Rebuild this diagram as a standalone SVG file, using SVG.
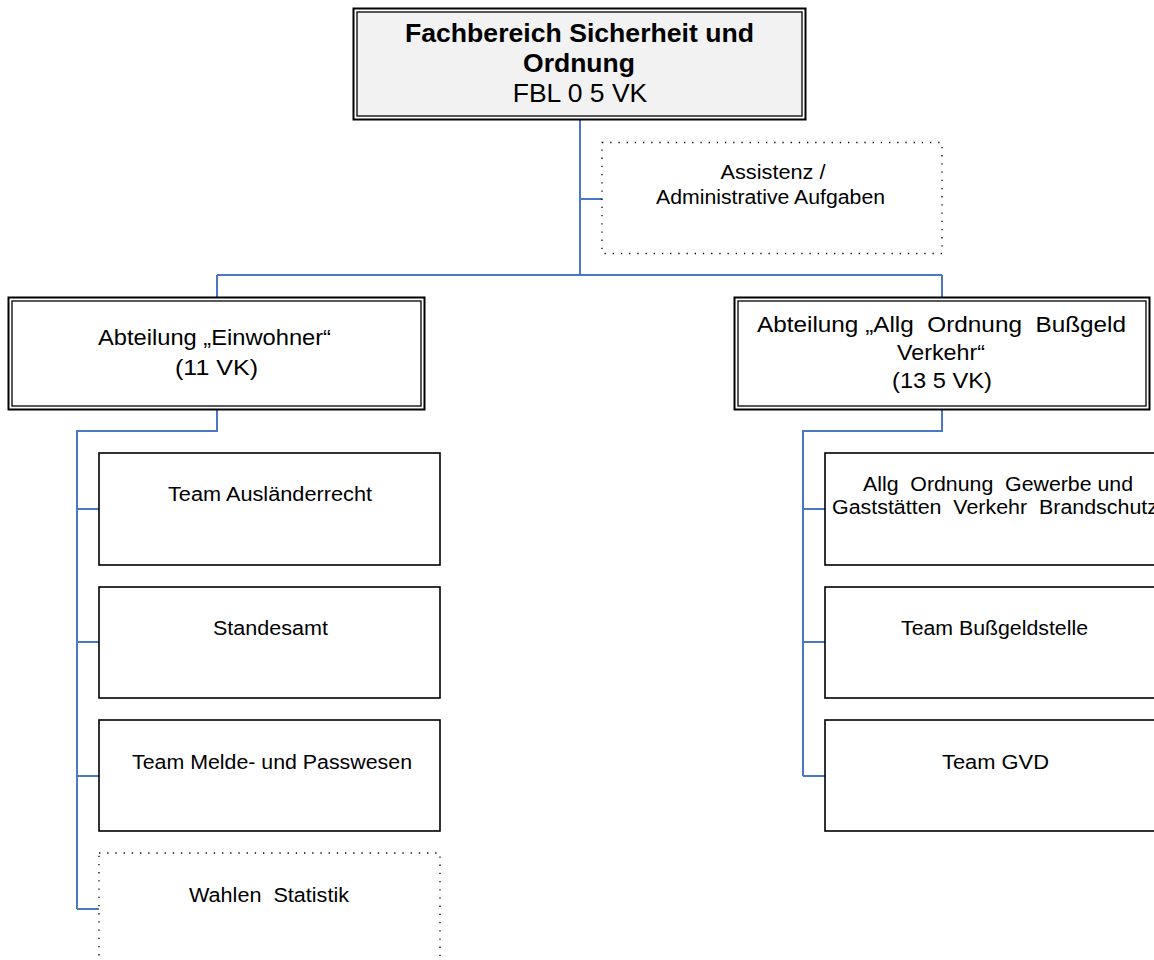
<svg xmlns="http://www.w3.org/2000/svg" width="1154" height="960" viewBox="0 0 1154 960">
<style>
  .bg { fill: #ffffff; }
  .outer { fill: #ffffff; stroke: #000000; stroke-width: 2; }
  .inner { fill: #ffffff; stroke: #000000; stroke-width: 1.3; }
  .innergray { fill: #f2f2f2; stroke: #000000; stroke-width: 1.3; }
  .box { fill: #ffffff; stroke: #000000; stroke-width: 1.6; }
  .dotted { fill: #ffffff; stroke: #000000; stroke-width: 1.3; stroke-dasharray: 1.3 6.9; }
  .conn { fill: none; stroke: #4a78c4; stroke-width: 2; }
  text { font-family: "Liberation Sans", Arial, sans-serif; fill: #000000; text-anchor: middle; }
  .title { font-size: 26.5px; font-weight: bold; }
  .sub { font-size: 26.5px; }
  .dept { font-size: 21.5px; }
  .team { font-size: 19.5px; }
</style>
<rect class="bg" x="0" y="0" width="1154" height="960"/>

<g id="connectors">
  <path class="conn" d="M580,120 V275 M580,199 H602 M217,275 H942 M217,275 V297 M942,275 V297"/>
  <path class="conn" d="M217,410 V431 H77 V909 M77,509 H99 M77,642 H99 M77,776 H99 M77,909 H99"/>
  <path class="conn" d="M942,410 V431 H803 V776 M803,509 H825 M803,642 H825 M803,776 H825"/>
</g>

<g id="node-fachbereich">
  <rect class="outer" x="353.5" y="8.5" width="452" height="111"/>
  <rect class="innergray" x="357" y="12" width="445" height="104"/>
  <text class="title" x="579.5" y="42" textLength="349" lengthAdjust="spacingAndGlyphs">Fachbereich Sicherheit und</text>
  <text class="title" x="579" y="72">Ordnung</text>
  <text class="sub" x="580" y="102" xml:space="preserve">FBL 0 5 VK</text>
</g>

<g id="node-assistenz">
  <rect class="dotted" x="602" y="142.5" width="340" height="111"/>
  <text class="team" x="773" y="179" textLength="105" lengthAdjust="spacingAndGlyphs">Assistenz /</text>
  <text class="team" x="770.5" y="204" textLength="229" lengthAdjust="spacingAndGlyphs">Administrative Aufgaben</text>
</g>

<g id="node-einwohner">
  <rect class="outer" x="8.5" y="297.5" width="416" height="112"/>
  <rect class="inner" x="12" y="301" width="409" height="105"/>
  <text class="dept" x="214.5" y="345" textLength="233" lengthAdjust="spacingAndGlyphs">Abteilung „Einwohner“</text>
  <text class="dept" x="216.5" y="375" textLength="83" lengthAdjust="spacingAndGlyphs">(11 VK)</text>
</g>

<g id="node-allg-ordnung">
  <rect class="outer" x="734.5" y="297.5" width="415" height="112"/>
  <rect class="inner" x="738" y="301" width="408" height="105"/>
  <text class="dept" x="941.5" y="332" textLength="369" lengthAdjust="spacingAndGlyphs" xml:space="preserve">Abteilung „Allg  Ordnung  Bußgeld</text>
  <text class="dept" x="941" y="360" textLength="88" lengthAdjust="spacingAndGlyphs">Verkehr“</text>
  <text class="dept" x="942" y="388" textLength="100" lengthAdjust="spacingAndGlyphs" xml:space="preserve">(13 5 VK)</text>
</g>

<g id="node-auslaenderrecht">
  <rect class="box" x="99" y="453" width="341" height="112"/>
  <text class="team" x="270" y="501" textLength="204" lengthAdjust="spacingAndGlyphs">Team Ausländerrecht</text>
</g>

<g id="node-standesamt">
  <rect class="box" x="99" y="587" width="341" height="111"/>
  <text class="team" x="270.5" y="635" textLength="115" lengthAdjust="spacingAndGlyphs">Standesamt</text>
</g>

<g id="node-melde">
  <rect class="box" x="99" y="720" width="341" height="111"/>
  <text class="team" x="272" y="769" textLength="280" lengthAdjust="spacingAndGlyphs">Team Melde- und Passwesen</text>
</g>

<g id="node-wahlen">
  <rect class="dotted" x="99" y="853" width="341" height="112"/>
  <text class="team" x="269" y="902" textLength="160" lengthAdjust="spacingAndGlyphs" xml:space="preserve">Wahlen  Statistik</text>
</g>

<g id="node-gewerbe">
  <rect class="box" x="825" y="453" width="341" height="112"/>
  <text class="team" x="998" y="491" textLength="270" lengthAdjust="spacingAndGlyphs" xml:space="preserve">Allg  Ordnung  Gewerbe und</text>
  <text class="team" x="832" y="514" textLength="326" lengthAdjust="spacingAndGlyphs" style="text-anchor:start" xml:space="preserve">Gaststätten  Verkehr  Brandschutz</text>
</g>

<g id="node-bussgeld">
  <rect class="box" x="825" y="587" width="341" height="111"/>
  <text class="team" x="994.5" y="635" textLength="187" lengthAdjust="spacingAndGlyphs">Team Bußgeldstelle</text>
</g>

<g id="node-gvd">
  <rect class="box" x="825" y="720" width="341" height="111"/>
  <text class="team" x="995.5" y="769" textLength="107" lengthAdjust="spacingAndGlyphs">Team GVD</text>
</g>
</svg>
